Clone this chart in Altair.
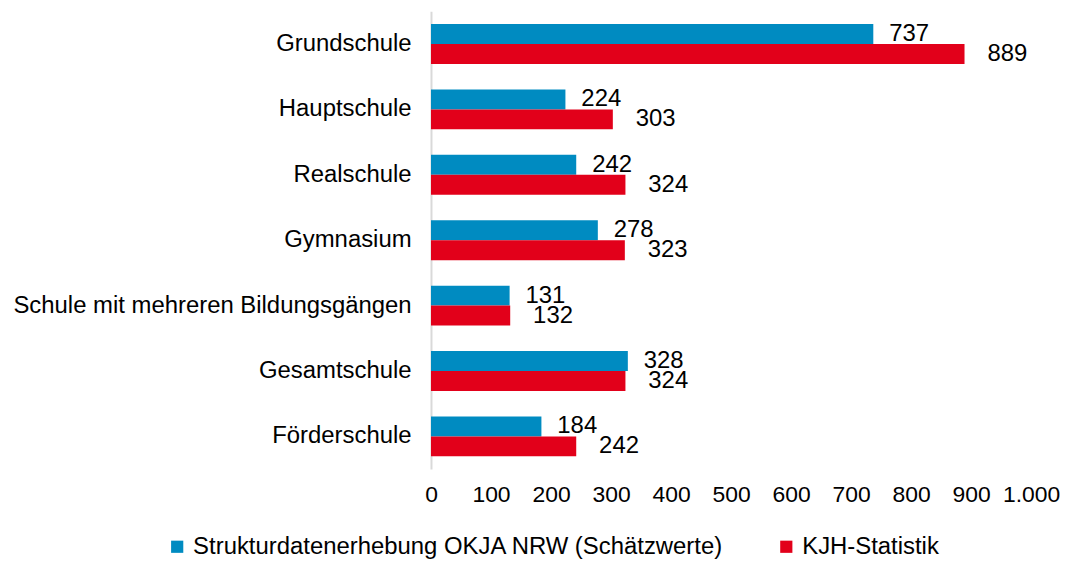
import altair as alt
import pandas as pd

categories = ["Grundschule", "Hauptschule", "Realschule", "Gymnasium",
              "Schule mit mehreren Bildungsgängen", "Gesamtschule", "Förderschule"]
series_names = ["Strukturdatenerhebung OKJA NRW (Schätzwerte)", "KJH-Statistik"]
okja_values = [737, 224, 242, 278, 131, 328, 184]
kjh_values = [889, 303, 324, 323, 132, 324, 242]
colors = ["#008BC1", "#E2001A"]

rows = []
for c, a, b in zip(categories, okja_values, kjh_values):
    rows.append({"Schulform": c, "Serie": series_names[0], "Wert": a})
    rows.append({"Schulform": c, "Serie": series_names[1], "Wert": b})
df = pd.DataFrame(rows)

FONT = "Liberation Sans"
FS = 24

base = alt.Chart(df).encode(
    y=alt.Y("Schulform:N", sort=categories, title=None,
            scale=alt.Scale(paddingInner=0.39, paddingOuter=0.195),
            axis=alt.Axis(labelFontSize=FS, labelPadding=20, ticks=False,
                          domainColor="#D9D9D9", domainWidth=2, labelColor="black",
                          labelFont=FONT, labelLimit=0)),
    yOffset=alt.YOffset("Serie:N", sort=series_names,
                        scale=alt.Scale(paddingInner=0, paddingOuter=0)),
    x=alt.X("Wert:Q", title=None,
            scale=alt.Scale(domain=[0, 1000], nice=False),
            axis=alt.Axis(values=list(range(0, 1001, 100)), grid=False, domain=False,
                          ticks=False, labelFontSize=23, labelPadding=15,
                          labelOverlap=False, labelFlush=False,
                          labelColor="black", labelFont=FONT,
                          labelExpr="replace(format(datum.value, ','), ',', '.')")),
)

bars = base.mark_bar().encode(
    color=alt.Color("Serie:N", sort=series_names,
                    scale=alt.Scale(domain=series_names, range=colors),
                    legend=alt.Legend(title=None, orient="none", direction="horizontal",
                                      legendX=-267, legendY=526,
                                      symbolType="square", symbolSize=150,
                                      symbolStrokeWidth=0,
                                      labelFontSize=FS, labelFont=FONT, labelColor="black",
                                      columnPadding=50, labelOffset=4,
                                      labelLimit=0))
)

text1 = base.transform_filter(alt.datum.Serie == series_names[0]).mark_text(
    align="left", baseline="middle", dx=16, fontSize=FS, font=FONT, color="black"
).encode(text=alt.Text("Wert:Q"))
text2 = base.transform_filter(alt.datum.Serie == series_names[1]).mark_text(
    align="left", baseline="middle", dx=23, fontSize=FS, font=FONT, color="black"
).encode(text=alt.Text("Wert:Q"))

chart = alt.layer(bars, text1, text2).properties(
    width=603, height=460,
    padding={"top": 2, "left": 4, "right": 0, "bottom": 0},
).configure(font=FONT).configure_view(strokeWidth=0, stroke=None)

chart.save("out.html", embed_options={"renderer": "svg", "actions": False})
